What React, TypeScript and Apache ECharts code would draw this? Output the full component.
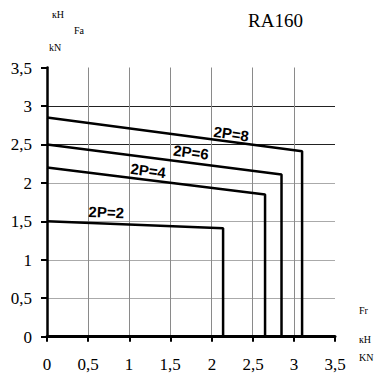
import React, { useEffect, useRef } from "react";
import * as echarts from "echarts";

// Data
const curveNames = ["2P=2", "2P=4", "2P=6", "2P=8"];
const faStart = [1.5, 2.2, 2.5, 2.85]; // Fa at Fr = 0
const frEnd = [2.14, 2.65, 2.85, 3.1]; // Fr limit
const faEnd = [1.41, 1.85, 2.11, 2.41]; // Fa at Fr limit
const tickValues = [0, 0.5, 1, 1.5, 2, 2.5, 3, 3.5];
const xTicks = ["0", "0,5", "1", "1,5", "2", "2,5", "3", "3,5"];
const yTicks = ["0", "0,5", "1", "1,5", "2", "2,5", "3", "3,5"];

// label anchors (data coords) and rotations
const labelAnchors: [number, number][] = [
  [0.72, 1.62],
  [1.23, 2.16],
  [1.75, 2.4],
  [2.24, 2.64],
];
const labelRotate = [-2, -7, -7, -8];

const SERIF = "Liberation Serif";
const SANS = "Liberation Sans";

export default function App() {
  const ref = useRef<HTMLDivElement>(null);
  useEffect(() => {
    if (!ref.current) return;
    const chart = echarts.init(ref.current, undefined, { renderer: "svg" });
    const series = curveNames.map((name, i) => ({
      name,
      type: "line",
      data: [
        [0, faStart[i]],
        [frEnd[i], faEnd[i]],
        [frEnd[i], 0],
      ],
      showSymbol: false,
      symbol: "none",
      lineStyle: { color: "#000", width: 2.5 },
      z: 5,
      markPoint: {
        symbol: "circle",
        symbolSize: 0,
        itemStyle: { color: "transparent" },
        label: {
          show: true,
          position: "inside",
          formatter: name,
          rotate: labelRotate[i],
          color: "#000",
          fontWeight: "bold",
          fontSize: 15,
          fontFamily: SANS,
        },
        data: [{ coord: labelAnchors[i] }],
      },
    }));
    const titles: any[] = [
      { type: "text", left: 52, top: 9, style: { text: "кН", font: `10px ${SERIF}`, fill: "#000" } },
      { type: "text", left: 74, top: 25, style: { text: "Fa", font: `10px ${SERIF}`, fill: "#000" } },
      { type: "text", left: 49, top: 42, style: { text: "kN", font: `10px ${SERIF}`, fill: "#000" } },
      { type: "text", left: 248, top: 11, style: { text: "RA160", font: `19px ${SERIF}`, fill: "#000" } },
      { type: "text", left: 359, top: 305, style: { text: "Fr", font: `10px ${SERIF}`, fill: "#000" } },
      { type: "text", left: 359, top: 334, style: { text: "кН", font: `10px ${SERIF}`, fill: "#000" } },
      { type: "text", left: 359, top: 352, style: { text: "KN", font: `10px ${SERIF}`, fill: "#000" } },
    ];
    chart.setOption({
      animation: false,
      backgroundColor: "#fff",
      grid: { left: 47, top: 67.5, width: 288, height: 269.2, containLabel: false },
      xAxis: {
        type: "value",
        min: 0,
        max: 3.5,
        interval: 0.5,
        axisLine: { show: true, lineStyle: { color: "#000", width: 3 } },
        axisTick: { show: true, length: 5, lineStyle: { color: "#000", width: 2 } },
        axisLabel: { show: false, formatter: () => "" },
        splitLine: {
          show: true,
          showMinLine: false,
          showMaxLine: false,
          lineStyle: { color: "#8a8a8a", width: 1 },
        },
      },
      yAxis: {
        type: "value",
        min: 0,
        max: 3.5,
        interval: 0.5,
        axisLine: { show: true, lineStyle: { color: "#000", width: 2.5 } },
        axisTick: { show: true, length: 6, lineStyle: { color: "#000", width: 2 } },
        axisLabel: { show: false, formatter: () => "", color: "transparent" },
        splitLine: {
          show: true,
          showMinLine: false,
          showMaxLine: false,
          lineStyle: {
            color: ["#aaaaaa", "#aaaaaa", "#aaaaaa", "#aaaaaa", "#222222", "#222222"],
            width: 1,
          },
        },
      },
      graphic: titles,
      series,
    });
    // tick labels placed through the axis scales
    const xTexts: any[] = [];
    const yTexts: any[] = [];
    tickValues.forEach((v, i) => {
      const px = chart.convertToPixel({ gridIndex: 0 }, [v, 0]) as number[];
      xTexts.push({
        type: "text",
        x: Math.round(px[0]),
        y: Math.round(px[1] + 27),
        style: {
          text: xTicks[i],
          font: `17px ${SERIF}`,
          fill: "#000",
          textAlign: "center",
          textVerticalAlign: "middle",
        },
      });
      const py = chart.convertToPixel({ gridIndex: 0 }, [0, v]) as number[];
      yTexts.push({
        type: "text",
        x: Math.round(py[0] - 15),
        y: Math.round(py[1]),
        style: {
          text: yTicks[i],
          font: `17px ${SERIF}`,
          fill: "#000",
          textAlign: "right",
          textVerticalAlign: "middle",
        },
      });
    });
    chart.setOption({ graphic: [...titles, ...xTexts, ...yTexts] });
    return () => chart.dispose();
  }, []);
  return (
    <div
      ref={ref}
      style={{ position: "fixed", left: 0, top: 0, width: 383, height: 376, background: "#fff" }}
    />
  );
}
